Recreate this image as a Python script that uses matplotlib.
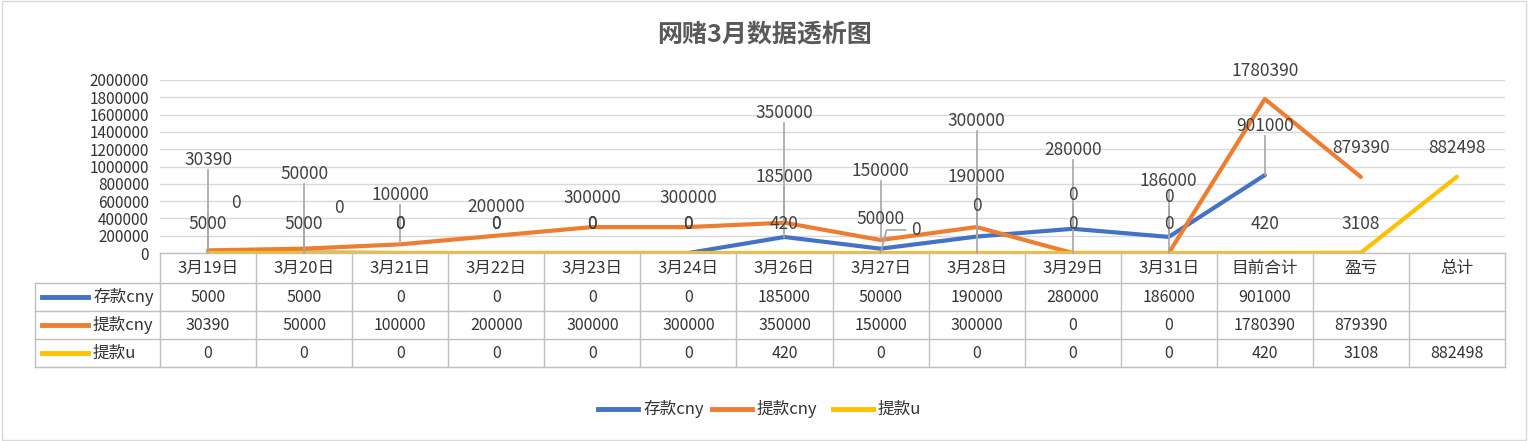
import matplotlib
matplotlib.use("Agg")
import matplotlib.pyplot as plt
import numpy as np
from matplotlib.lines import Line2D

plt.rcParams['font.family'] = ['Noto Sans CJK SC', 'DejaVu Sans']

categories = ["3月19日","3月20日","3月21日","3月22日","3月23日","3月24日","3月26日","3月27日","3月28日","3月29日","3月31日","目前合计","盈亏","总计"]
series_names = ["存款cny", "提款cny", "提款u"]
deposit_cny = [5000,5000,0,0,0,0,185000,50000,190000,280000,186000,901000,None,None]
withdraw_cny = [30390,50000,100000,200000,300000,300000,350000,150000,300000,0,0,1780390,879390,None]
withdraw_u = [0,0,0,0,0,0,420,0,0,0,0,420,3108,882498]
yticks = [0,200000,400000,600000,800000,1000000,1200000,1400000,1600000,1800000,2000000]
colors = ["#4472C4", "#ED7D31", "#FFC000"]
all_series = [deposit_cny, withdraw_cny, withdraw_u]

# label placement (layout only): (x offset px, label centre y px from top)
label_pos = [
    [(0,224),(0,224),(0,224),(0,224),(0,224),(0,224),(0,177),(0,219),(0,177),(0,150),(0,181),(0,126),None,None],
    [(0,160),(0,174),(0,195),(0,207),(0,198),(0,198),(0,113),(0,171),(0,121),(0,195),(0,197),(0,71),(0,148),None],
    [(28,203),(35,208),(0,224),(0,224),(0,224),(0,224),(0,224),(35,230),(0,206),(0,224),(0,224),(0,224),(0,224),(0,148)],
]

W, H = 1529, 441
fig = plt.figure(figsize=(W/100, H/100), dpi=100)
L, R, T, B = 160, 1505, 80, 253
ax = fig.add_axes([L/W, 1-B/H, (R-L)/W, (B-T)/H])
n = len(categories)
ax.set_xlim(-0.5, n-0.5)
ax.set_ylim(0, 2000000)
ax.set_yticks(yticks)
ax.set_yticklabels([str(v) for v in yticks], fontsize=11, color="#333333")
ax.tick_params(axis='y', length=0, pad=8)
ax.set_xticks([])
ax.grid(axis='y', color="#D9D9D9", lw=1)
for s in ax.spines.values():
    s.set_visible(False)
ax.set_axisbelow(True)

def fx(p): return p/W
def fy(p): return 1-p/H

for si, (vals, c) in enumerate(zip(all_series, colors)):
    xs = [i for i, v in enumerate(vals) if v is not None]
    ys = [vals[i] for i in xs]
    ax.plot(xs, ys, color=c, lw=3, zorder=3, solid_capstyle='round')
    for i in xs:
        v = vals[i]
        dx, ly = label_pos[si][i]
        px, py = ax.transData.transform((i, v))
        py_top = H - py
        lx = px + dx
        fig.text(fx(lx), fy(ly), str(v), ha='center', va='center', fontsize=12.5, color="#404040", zorder=5)
        if py_top - ly > 35:
            fig.add_artist(Line2D([fx(px), fx(px)], [fy(ly+10), fy(py_top)], color="#A6A6A6", lw=1.2, zorder=4))
        elif dx != 0:
            fig.add_artist(Line2D([fx(px), fx(px+6), fx(lx-10)], [fy(py_top), fy(ly), fy(ly)], color="#A6A6A6", lw=1.2, zorder=4))

fig.text(0.5, 1-35/H, "网赌3月数据透析图", ha='center', va='center', fontsize=18,
         fontweight='bold', color="#595959")

# data table
rows_y = [253, 283, 311, 339, 367]
colw = (R-L)/n
lc = "#BFBFBF"
for k, yy in enumerate(rows_y):
    x0 = L if k == 0 else 35
    fig.add_artist(Line2D([fx(x0), fx(R)], [fy(yy), fy(yy)], color=lc, lw=1))
for j in range(n+1):
    xx = L + j*colw
    fig.add_artist(Line2D([fx(xx), fx(xx)], [fy(253), fy(367)], color=lc, lw=1))
fig.add_artist(Line2D([fx(35), fx(35)], [fy(283), fy(367)], color=lc, lw=1))
for j, cat in enumerate(categories):
    fig.text(fx(L+(j+0.5)*colw), fy(268), cat, ha='center', va='center', fontsize=12, color="#333333")
for r, (name, vals, c) in enumerate(zip(series_names, all_series, colors)):
    yc = (rows_y[r+1]+rows_y[r+2])/2
    fig.add_artist(Line2D([fx(42), fx(88)], [fy(yc), fy(yc)], color=c, lw=3.5))
    fig.text(fx(93), fy(yc), name, ha='left', va='center', fontsize=12, color="#333333")
    for j, v in enumerate(vals):
        if v is not None:
            fig.text(fx(L+(j+0.5)*colw), fy(yc), str(v), ha='center', va='center', fontsize=11.5, color="#333333")

# legend
lx = [598, 712, 833]
for name, c, xx in zip(series_names, colors, lx):
    fig.add_artist(Line2D([fx(xx), fx(xx+40)], [fy(409), fy(409)], color=c, lw=3.5))
    fig.text(fx(xx+45), fy(409), name, ha='left', va='center', fontsize=12, color="#333333")

fig.add_artist(plt.Rectangle((0.001, 0.002), 0.997, 0.995, fill=False, ec="#D9D9D9", lw=1, transform=fig.transFigure))
fig.savefig("out.png", dpi=100, facecolor="white")
